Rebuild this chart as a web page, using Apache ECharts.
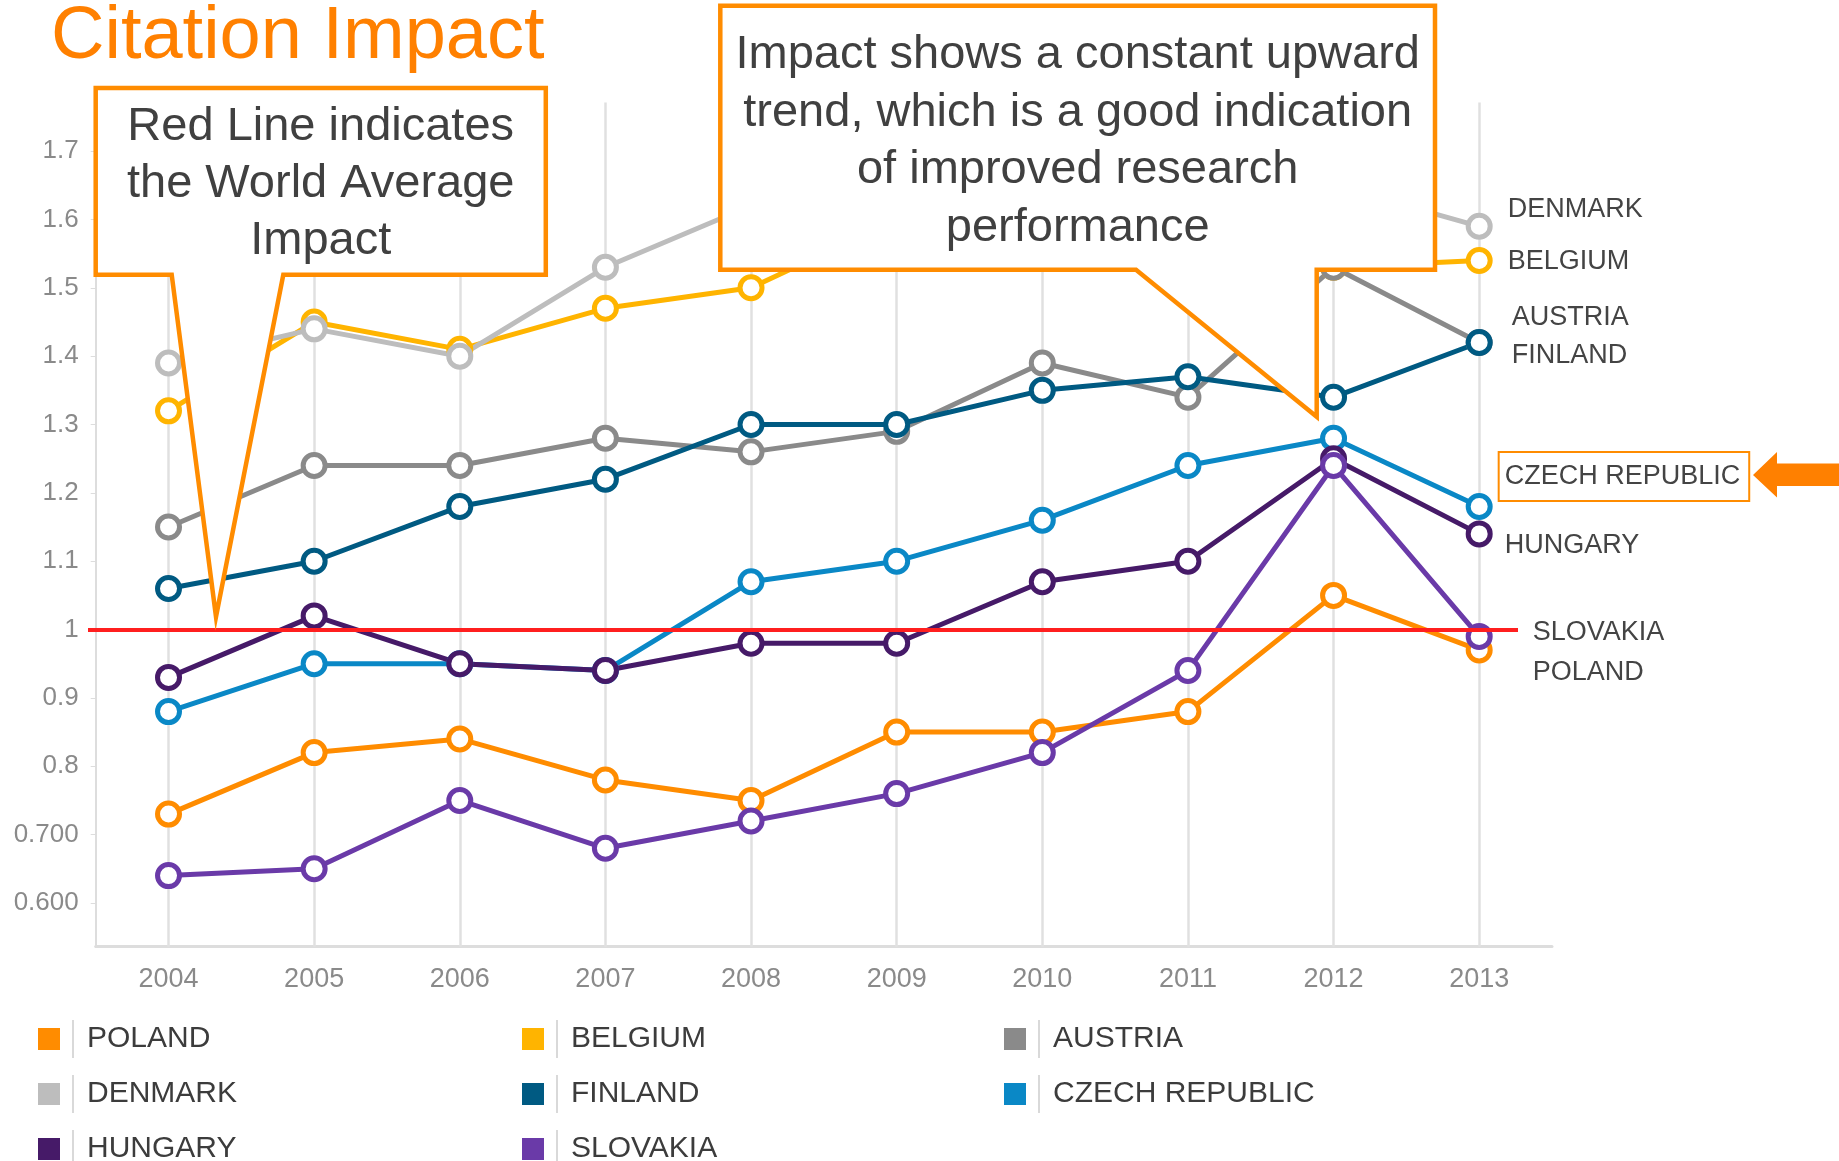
<!DOCTYPE html>
<html>
<head>
<meta charset="utf-8">
<title>Citation Impact</title>
<script src="https://cdn.jsdelivr.net/npm/echarts@6/dist/echarts.min.js"></script>
<style>
  html, body { margin: 0; padding: 0; background: #fff; }
  #chart { width: 1839px; height: 1161px; }
</style>
</head>
<body>
<div id="chart"></div>
<script>
// data
const years = ['2004', '2005', '2006', '2007', '2008', '2009', '2010', '2011', '2012', '2013']

const poland   = [0.73, 0.82, 0.84, 0.78, 0.75, 0.85, 0.85, 0.88, 1.05, 0.97]
const belgium  = [1.32, 1.45, 1.41, 1.47, 1.50, 1.60, 1.58, 1.56, 1.53, 1.54]
const austria  = [1.15, 1.24, 1.24, 1.28, 1.26, 1.29, 1.39, 1.34, 1.53, 1.42]
const denmark  = [1.39, 1.44, 1.40, 1.53, 1.62, 1.63, 1.64, 1.66, 1.65, 1.59]
const finland  = [1.06, 1.10, 1.18, 1.22, 1.30, 1.30, 1.35, 1.37, 1.34, 1.42]
const czech    = [0.88, 0.95, 0.95, 0.94, 1.07, 1.10, 1.16, 1.24, 1.28, 1.18]
const hungary  = [0.93, 1.02, 0.95, 0.94, 0.98, 0.98, 1.07, 1.10, 1.25, 1.14]
const slovakia = [0.64, 0.65, 0.75, 0.68, 0.72, 0.76, 0.82, 0.94, 1.24, 0.99]

const worldAverage = 1

const yTickValues = [0.6, 0.7, 0.8, 0.9, 1, 1.1, 1.2, 1.3, 1.4, 1.5, 1.6, 1.7]
const yTickLabels = ['0.600', '0.700', '0.8', '0.9', '1', '1.1', '1.2', '1.3', '1.4', '1.5', '1.6', '1.7']

// series in drawing order (later ones on top)
const countries = [
  { name: 'POLAND', values: poland, color: '#ff8c00' },
  { name: 'BELGIUM', values: belgium, color: '#ffb400' },
  { name: 'AUSTRIA', values: austria, color: '#8a8a8a' },
  { name: 'DENMARK', values: denmark, color: '#bdbdbd' },
  { name: 'FINLAND', values: finland, color: '#005a82' },
  { name: 'CZECH REPUBLIC', values: czech, color: '#0a88c6' },
  { name: 'HUNGARY', values: hungary, color: '#461a68' },
  { name: 'SLOVAKIA', values: slovakia, color: '#6a3aa8' }
]

// where the end-of-line names sit relative to the last point
const endLabelShift = {
  'DENMARK': [10, -17],
  'BELGIUM': [10, 1],
  'AUSTRIA': [14, -25],
  'FINLAND': [14, 13],
  'CZECH REPUBLIC': [1, -30],
  'HUNGARY': [7, 12],
  'SLOVAKIA': [35, -4],
  'POLAND': [35, 22]
}

const legendColumns = [
  ['POLAND', 'DENMARK', 'HUNGARY'],
  ['BELGIUM', 'FINLAND', 'SLOVAKIA'],
  ['AUSTRIA', 'CZECH REPUBLIC']
]
const legendLeft = [38, 522, 1004]

const FONT = '"Liberation Sans", Arial, sans-serif'
const ORANGE = '#ff8c00'

function colorOf(name) {
  return countries.find((c) => c.name === name).color
}

function createSeries() {
  let series = []
  countries.forEach((c, i) => {
    const last = c.values.length - 1
    let label = {
      show: true,
      position: 'right',
      distance: 5,
      offset: endLabelShift[c.name],
      formatter: c.name,
      fontSize: 27,
      fontFamily: FONT,
      color: '#444'
    }
    if (c.name === 'CZECH REPUBLIC') {
      label.borderColor = ORANGE
      label.borderWidth = 2
      label.padding = [10, 9, 9, 6]
      label.lineHeight = 30
    }
    let s = {
      name: c.name,
      type: 'line',
      z: 2,
      symbol: 'circle',
      symbolSize: 22,
      showAllSymbol: true,
      itemStyle: { color: '#fff', borderColor: c.color, borderWidth: 5 },
      lineStyle: { color: c.color, width: 5 },
      emphasis: { disabled: true },
      data: c.values.map((v, j) => (j === last ? { value: v, label: label } : v))
    }
    if (i === 0) {
      // vertical guide lines at each year
      s.markLine = {
        silent: true,
        z: 1,
        symbol: ['none', 'none'],
        label: { show: false },
        lineStyle: { color: '#e0e0e0', width: 2.5, type: 'solid' },
        data: years.map((y) => ({ xAxis: y }))
      }
    }
    if (i === countries.length - 1) {
      // world average line, a bit wider than the plot on the left, short of it on the right
      s.markLine = {
        silent: true,
        z: 10,
        symbol: ['none', 'none'],
        label: { show: false },
        lineStyle: { color: '#ff1f1f', width: 4, type: 'solid' },
        data: [[{ yAxis: worldAverage, x: 88 }, { yAxis: worldAverage, x: 1518 }]]
      }
    }
    series.push(s)
  })
  return series
}

function createLegends() {
  return legendColumns.map((names, i) => ({
    orient: 'vertical',
    left: legendLeft[i],
    top: 1020,
    height: 200,
    padding: 0,
    itemWidth: 22,
    itemHeight: 22,
    itemGap: 17,
    icon: 'rect',
    selectedMode: false,
    itemStyle: { borderWidth: 0 },
    data: names.map((n) => ({ name: n, itemStyle: { color: colorOf(n), borderWidth: 0 } })),
    formatter: (name) => '{g|}{s|}{t|' + name + '}',
    textStyle: {
      rich: {
        g: { width: 7, height: 38 },
        s: { width: 2, height: 38, backgroundColor: '#d9d9d9' },
        t: { fontSize: 30, lineHeight: 38, fontFamily: FONT, color: '#3c3c3c', padding: [0, 0, 0, 13] }
      }
    }
  }))
}

function createGraphics() {
  return [
    {
      type: 'text',
      z: 100,
      x: 51,
      y: 37.5,
      style: {
        text: 'Citation Impact',
        font: '74px ' + FONT,
        fill: '#ff8000',
        textAlign: 'left',
        textVerticalAlign: 'middle',
        align: 'left',
        verticalAlign: 'middle'
      }
    },
    {
      type: 'polygon',
      z: 100,
      shape: {
        points: [[95.7, 88], [545.8, 88], [545.8, 274.8], [283.3, 274.8], [216, 616.7], [171.7, 274.8], [95.7, 274.8]]
      },
      style: { fill: '#fff', stroke: ORANGE, lineWidth: 4.5, lineJoin: 'miter', miterLimit: 20 }
    },
    {
      type: 'text',
      z: 101,
      x: 320.7,
      y: 184,
      style: {
        text: 'Red Line indicates\nthe World Average\nImpact',
        font: '47px ' + FONT,
        lineHeight: 57,
        fill: '#404040',
        textAlign: 'center',
        textVerticalAlign: 'middle',
        align: 'center',
        verticalAlign: 'middle'
      }
    },
    {
      type: 'polygon',
      z: 100,
      shape: {
        points: [[720.3, 5.7], [1435, 5.7], [1435, 269.8], [1316.7, 269.8], [1316.7, 416.7], [1136, 269.8], [720.3, 269.8]]
      },
      style: { fill: '#fff', stroke: ORANGE, lineWidth: 4.5, lineJoin: 'miter', miterLimit: 20 }
    },
    {
      type: 'text',
      z: 101,
      x: 1077.7,
      y: 141.6,
      style: {
        text: 'Impact shows a constant upward\ntrend, which is a good indication\nof improved research\nperformance',
        font: '47px ' + FONT,
        lineHeight: 57.4,
        fill: '#404040',
        textAlign: 'center',
        textVerticalAlign: 'middle',
        align: 'center',
        verticalAlign: 'middle'
      }
    },
    {
      // arrow pointing at the czech label
      type: 'polygon',
      z: 100,
      shape: {
        points: [[1753, 475], [1777, 452], [1777, 463.5], [1839, 463.5], [1839, 486], [1777, 486], [1777, 497.5]]
      },
      style: { fill: '#ff8000' }
    }
  ]
}

const chart = echarts.init(document.getElementById('chart'))

chart.setOption({
  animation: false,
  backgroundColor: '#fff',
  textStyle: { fontFamily: FONT },
  grid: {
    left: 95.7,
    right: 287,
    top: 102.6,
    bottom: 214.3,
    containLabel: false,
    outerBoundsMode: 'none'
  },
  legend: createLegends(),
  xAxis: {
    type: 'category',
    boundaryGap: true,
    data: years,
    axisLine: { show: true, lineStyle: { color: '#dddddd', width: 3 } },
    axisTick: { show: false },
    splitLine: { show: false },
    axisLabel: { fontSize: 27, color: '#8a8a8a', margin: 19, fontFamily: FONT }
  },
  yAxis: {
    type: 'value',
    min: 0.536,
    max: 1.771,
    axisLine: { show: true, lineStyle: { color: '#dddddd', width: 2 } },
    axisTick: { show: true, customValues: yTickValues, length: 5, lineStyle: { color: '#dddddd' } },
    splitLine: { show: false },
    axisLabel: {
      customValues: yTickValues,
      fontSize: 26,
      color: '#8a8a8a',
      margin: 17,
      fontFamily: FONT,
      formatter: (v) => {
        const i = yTickValues.findIndex((t) => Math.abs(t - v) < 1e-6)
        return i >= 0 ? yTickLabels[i] : ''
      }
    }
  },
  series: createSeries(),
  graphic: { elements: createGraphics() }
})
</script>
</body>
</html>
